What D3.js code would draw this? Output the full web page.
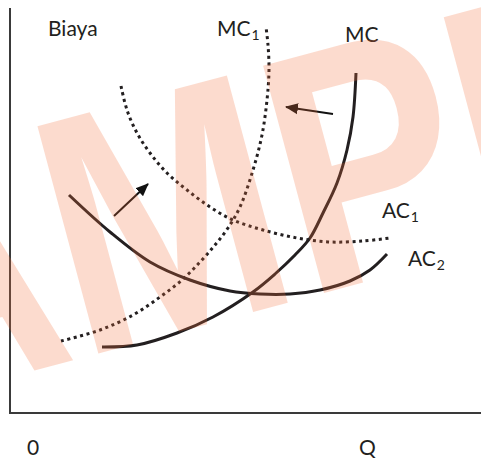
<!DOCTYPE html>
<html>
<head>
<meta charset="utf-8">
<script src="https://cdn.jsdelivr.net/npm/d3@7"></script>
<style>
  html, body { margin: 0; padding: 0; background: #fff; }
  svg { display: block; }
</style>
</head>
<body>
<div id="chart"></div>
<script>
// ---- data (x = quantity units, y = cost units) ----
const mcX  = [92,127,167,203,243,265,285,300,313,327,337,343,346];
const mcY  = [66,68,80,96,121,139,158,175,200,230,263,296,340];
const mc1X = [51,90,123,150,172,190,205,218,230,243,252,257,259,258,256];
const mc1Y = [72,83,98,116,133,151,168,185,206,243,278,313,343,368,386];
const ac1X = [111,117,127,140,157,177,200,223,253,287,320,353,380];
const ac1Y = [327,303,280,260,240,223,206,193,183,175,171,172,175];
const ac2X = [59,100,140,180,220,250,280,310,340,360,377];
const ac2Y = [218,181,151,133,122,119,119,123,132,143,159];
// shift arrows: [x0, y0, x1, y1]
const arrows = [[104,197,138,229],[323,299,276,306]];
// labels
const curveLabels = [
  {main:"MC", sub:"1", x:207, y:377},
  {main:"MC", sub:"",  x:335, y:371},
  {main:"AC", sub:"1", x:372, y:195},
  {main:"AC", sub:"2", x:398, y:147}
];
const yAxisLabel = "Biaya";
const xTickLabels = [{t:"0", x:17}, {t:"Q", x:349}];

const W = 481, H = 459;
const svg = d3.select("#chart").append("svg").attr("width", W).attr("height", H);

const x = d3.scaleLinear().domain([0, 471]).range([10, 481]);
const y = d3.scaleLinear().domain([0, 405]).range([413, 8]);

const ink = "#231f20";
const font = "Lato, 'Open Sans', sans-serif";

// axes
svg.append("line").attr("x1", x(0)).attr("x2", x(0)).attr("y1", y(405)).attr("y2", y(0) + 1)
  .attr("stroke", "#3a3a3a").attr("stroke-width", 2);
svg.append("line").attr("x1", x(0) - 1).attr("x2", x(471)).attr("y1", y(0)).attr("y2", y(0))
  .attr("stroke", "#3a3a3a").attr("stroke-width", 2);

const line = d3.line().x(d => x(d[0])).y(d => y(d[1])).curve(d3.curveCatmullRom.alpha(0.5));
const zip = (a, b) => a.map((v, i) => [v, b[i]]);

const curves = [
  {xs: mc1X, ys: mc1Y, dotted: true},
  {xs: ac1X, ys: ac1Y, dotted: true},
  {xs: ac2X, ys: ac2Y, dotted: false},
  {xs: mcX,  ys: mcY,  dotted: false}
];
curves.forEach(c => {
  const p = svg.append("path").attr("d", line(zip(c.xs, c.ys)))
    .attr("fill", "none").attr("stroke", ink).attr("stroke-width", 3);
  if (c.dotted) p.attr("stroke-dasharray", "3,3.6");
});

// arrow marker
svg.append("defs").append("marker")
  .attr("id", "ah").attr("markerUnits", "userSpaceOnUse")
  .attr("viewBox", "0 -6 13 12").attr("refX", 12).attr("refY", 0)
  .attr("markerWidth", 13).attr("markerHeight", 12).attr("orient", "auto")
  .append("path").attr("d", "M0,-5.5L13,0L0,5.5Z").attr("fill", "#111");

arrows.forEach(a => {
  svg.append("line").attr("x1", x(a[0])).attr("y1", y(a[1])).attr("x2", x(a[2])).attr("y2", y(a[3]))
    .attr("stroke", "#111").attr("stroke-width", 2).attr("marker-end", "url(#ah)");
});

// labels
const fs = 21;
svg.append("text").attr("x", 48).attr("y", 36).attr("font-family", font).attr("font-size", fs)
  .attr("fill", ink).text(yAxisLabel);
curveLabels.forEach(l => {
  const t = svg.append("text").attr("x", x(l.x)).attr("y", y(l.y)).attr("font-family", font)
    .attr("font-size", fs).attr("fill", ink);
  t.append("tspan").text(l.main);
  if (l.sub) t.append("tspan").attr("font-size", 14).attr("dy", 4).attr("dx", 1).text(l.sub);
});
xTickLabels.forEach(l => {
  svg.append("text").attr("x", x(l.x)).attr("y", 455).attr("font-family", font)
    .attr("font-size", fs).attr("fill", ink).text(l.t);
});

// watermark
const fsW = 342, sx = 0.82;
const wm = svg.append("g").attr("transform", `translate(100,353) rotate(-15) scale(${sx},1)`);
const wt = wm.append("text").attr("font-family", "'Liberation Sans', Arial, sans-serif")
  .attr("font-weight", "bold").attr("font-size", fsW)
  .attr("fill", "rgb(245,110,60)").attr("fill-opacity", 0.25).text("SAMPLE");
const startM = wt.node().getStartPositionOfChar(2).x;
wt.attr("x", -startM - 0.073 * fsW);
</script>
</body>
</html>
